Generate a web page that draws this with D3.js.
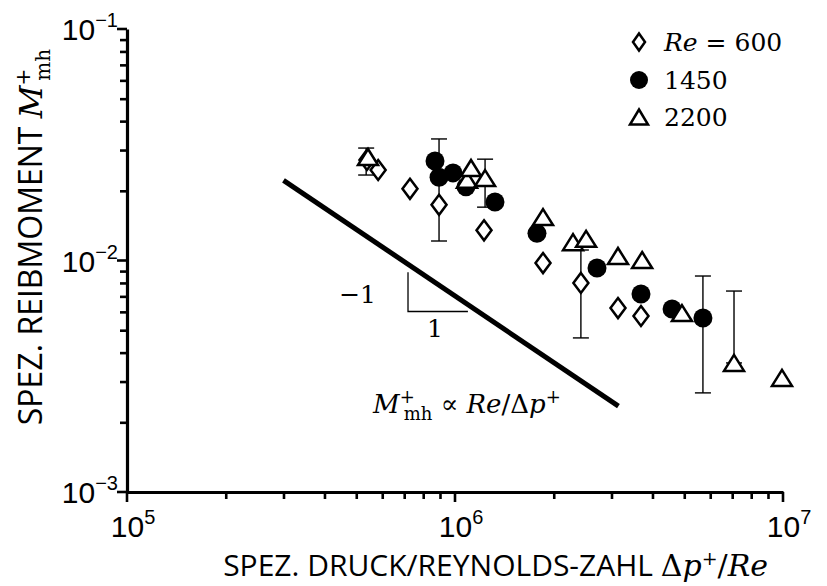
<!DOCTYPE html>
<html>
<head>
<meta charset="utf-8">
<script src="https://cdnjs.cloudflare.com/ajax/libs/d3/7.8.5/d3.min.js"></script>
<style>
  body { margin: 0; background: #fff; }
  .tick-lab { font-family: "Liberation Sans", Arial, sans-serif; font-size: 30px; }
  .title { font-family: "Open Sans", "Noto Sans", sans-serif; }
  .math { font-family: "DejaVu Serif", serif; }
</style>
</head>
<body>
<svg width="827" height="586"></svg>
<script>
// Re = 600 (open diamonds)
const re600 = [
    [5.39e5, 0.0272], [5.83e5, 0.0246], [7.29e5, 0.0204], [8.94e5, 0.0174],
    [1.226e6, 0.0135], [1.855e6, 0.00975], [2.42e6, 0.0080], [3.14e6, 0.00623],
    [3.69e6, 0.00576]
];
// Re = 1450 (filled circles)
const re1450 = [
    [8.69e5, 0.0269], [8.94e5, 0.0229], [9.86e5, 0.0239], [1.08e6, 0.0208],
    [1.324e6, 0.0179], [1.778e6, 0.0131], [2.71e6, 0.00928], [3.69e6, 0.00717],
    [4.59e6, 0.00617], [5.70e6, 0.00564]
];
// Re = 2200 (open triangles)
const re2200 = [
    [5.43e5, 0.0280], [1.088e6, 0.0223], [1.119e6, 0.0251], [1.235e6, 0.0227],
    [1.855e6, 0.0154], [2.29e6, 0.0120], [2.51e6, 0.0124], [3.14e6, 0.01046],
    [3.72e6, 0.01005], [4.92e6, 0.00593], [7.09e6, 0.00361], [9.93e6, 0.00311]
];
// error bars: x, low, high
const errX = [5.36e5, 8.94e5, 1.235e6, 2.42e6, 5.70e6, 7.09e6];
const errLo = [0.0234, 0.01214, 0.0170, 0.00463, 0.00268, 0.00361];
const errHi = [0.0306, 0.0335, 0.0274, 0.0111, 0.00857, 0.00738];

// fitted trend line end points and slope triangle corners
const trendLine = [[3.0e5, 0.0222], [3.15e6, 0.00235]];
const slopeTri = [[7.19e5, 0.0089], [7.19e5, 0.00602], [1.095e6, 0.00602]];

const xMajor = [1e5, 1e6, 1e7];
const xExp = ['5', '6', '7'];
const yMajor = [1e-3, 1e-2, 1e-1];
const yExp = ['−3', '−2', '−1'];

const legendLabels = ['= 600', '1450', '2200'];

const svg = d3.select('svg');

const x = d3.scaleLog().domain([1e5, 1e7]).range([127, 783]);
const y = d3.scaleLog().domain([1e-3, 1e-1]).range([492, 29]);

// minor ticks 2..9 in every decade
function minorTicks(lo, hi) {
    const out = [];
    for (let e = lo; e < hi; e++) {
        for (let m = 2; m <= 9; m++) out.push(m * Math.pow(10, e));
    }
    return out;
}

const xAxis = svg.append('g')
    .attr('transform', `translate(0,${y(1e-3)})`)
    .call(d3.axisBottom(x).tickValues(minorTicks(5, 7)).tickSize(7).tickSizeOuter(0).tickFormat(''));
xAxis.append('g').selectAll('line').data(xMajor).enter().append('line')
    .attr('x1', d => x(d)).attr('x2', d => x(d)).attr('y1', 0).attr('y2', 10)
    .attr('stroke', '#000');

const yAxis = svg.append('g')
    .attr('transform', `translate(${x(1e5)},0)`)
    .call(d3.axisLeft(y).tickValues(minorTicks(-3, -1)).tickSize(7).tickSizeOuter(0).tickFormat(''));
yAxis.append('g').selectAll('line').data(yMajor).enter().append('line')
    .attr('y1', d => y(d)).attr('y2', d => y(d)).attr('x1', 0).attr('x2', -10)
    .attr('stroke', '#000');

svg.selectAll('.domain').attr('stroke', '#000').attr('stroke-width', 3.2);
svg.selectAll('.tick line').attr('stroke', '#000').attr('stroke-width', 2.6);
xAxis.selectAll('g > line').attr('stroke-width', 2.6);
yAxis.selectAll('g > line').attr('stroke-width', 2.6);

// tick labels with superscripts
xMajor.forEach((v, i) => {
    const t = svg.append('text').attr('class', 'tick-lab')
        .attr('x', x(v) + 6).attr('y', 537).attr('text-anchor', 'middle');
    t.append('tspan').text('10');
    t.append('tspan').attr('dy', -13).attr('font-size', 20).text(xExp[i]);
});
yMajor.forEach((v, i) => {
    const t = svg.append('text').attr('class', 'tick-lab')
        .attr('x', 118).attr('y', y(v) + 11).attr('text-anchor', 'end');
    t.append('tspan').text('10');
    t.append('tspan').attr('dy', -13).attr('font-size', 20).text(yExp[i]);
});

// axis titles
const xt = svg.append('text').attr('class', 'title').attr('font-size', 30)
    .attr('x', 768).attr('y', 576).attr('text-anchor', 'end');
xt.append('tspan').text('SPEZ. DRUCK/REYNOLDS-ZAHL ');
xt.append('tspan').attr('class', 'math').text('Δ');
xt.append('tspan').attr('class', 'math').attr('font-style', 'italic').text('p');
xt.append('tspan').attr('class', 'math').attr('dy', -11).attr('font-size', 19).text('+');
xt.append('tspan').attr('class', 'math').attr('dy', 11).text('/');
xt.append('tspan').attr('class', 'math').attr('font-style', 'italic').text('Re');

const yt = svg.append('text').attr('class', 'title').attr('font-size', 32)
    .attr('transform', 'translate(42,237) rotate(-90)').attr('text-anchor', 'middle');
yt.append('tspan').text('SPEZ. REIBMOMENT ');
yt.append('tspan').attr('class', 'math').attr('font-style', 'italic').text('M');
yt.append('tspan').attr('class', 'math').attr('dy', -12).attr('font-size', 20).text('+');
yt.append('tspan').attr('class', 'math').attr('dx', -12).attr('dy', 20).attr('font-size', 20).text('mh');

// trend line
const line = d3.line().x(d => x(d[0])).y(d => y(d[1]));
svg.append('path').datum(trendLine).attr('d', line)
    .attr('fill', 'none').attr('stroke', '#000').attr('stroke-width', 5);
svg.append('path').datum(slopeTri).attr('d', line)
    .attr('fill', 'none').attr('stroke', '#000').attr('stroke-width', 1.3);

svg.append('text').attr('class', 'math').attr('font-size', 25)
    .attr('x', 376).attr('y', 303).attr('text-anchor', 'end').text('−1');
svg.append('text').attr('class', 'math').attr('font-size', 25)
    .attr('x', 435).attr('y', 337).attr('text-anchor', 'middle').text('1');

const f = svg.append('text').attr('class', 'math').attr('font-size', 26)
    .attr('x', 373).attr('y', 413);
f.append('tspan').attr('font-style', 'italic').text('M');
f.append('tspan').attr('dy', -10).attr('font-size', 18).text('+');
f.append('tspan').attr('dx', -11).attr('dy', 17).attr('font-size', 18).text('mh');
f.append('tspan').attr('dy', -7).text(' ∝ ');
f.append('tspan').attr('font-style', 'italic').text('Re');
f.append('tspan').text('/Δ');
f.append('tspan').attr('font-style', 'italic').text('p');
f.append('tspan').attr('dy', -10).attr('font-size', 18).text('+');

// error bars
const eb = svg.append('g').attr('stroke', '#000').attr('stroke-width', 1.4);
errX.forEach((v, i) => {
    const xx = x(v);
    eb.append('line').attr('x1', xx).attr('x2', xx).attr('y1', y(errLo[i])).attr('y2', y(errHi[i]));
    eb.append('line').attr('x1', xx - 8).attr('x2', xx + 8).attr('y1', y(errLo[i])).attr('y2', y(errLo[i]));
    eb.append('line').attr('x1', xx - 8).attr('x2', xx + 8).attr('y1', y(errHi[i])).attr('y2', y(errHi[i]));
});

// marker shapes
function diamondPath(w, h) {
    return `M0,${-h / 2}L${w / 2},0L0,${h / 2}L${-w / 2},0Z`;
}
function trianglePath(w, h) {
    return `M0,${-h / 2}L${w / 2},${h / 2}L${-w / 2},${h / 2}Z`;
}

svg.append('g').selectAll('circle').data(re1450).enter().append('circle')
    .attr('cx', d => x(d[0])).attr('cy', d => y(d[1])).attr('r', 9.5).attr('fill', '#000');

svg.append('g').selectAll('path').data(re600).enter().append('path')
    .attr('d', diamondPath(15, 20))
    .attr('transform', d => `translate(${x(d[0])},${y(d[1])})`)
    .attr('fill', '#fff').attr('stroke', '#000').attr('stroke-width', 2.5);

svg.append('g').selectAll('path').data(re2200).enter().append('path')
    .attr('d', trianglePath(20, 16))
    .attr('transform', d => `translate(${x(d[0])},${y(d[1])})`)
    .attr('fill', '#fff').attr('stroke', '#000').attr('stroke-width', 2.5);

// legend
const legY = [42, 80, 117];
const lg = svg.append('g');
lg.append('path').attr('d', diamondPath(12, 17)).attr('transform', `translate(639,${legY[0]})`)
    .attr('fill', '#fff').attr('stroke', '#000').attr('stroke-width', 2.5);
lg.append('circle').attr('cx', 639).attr('cy', legY[1]).attr('r', 9).attr('fill', '#000');
lg.append('path').attr('d', trianglePath(18, 15)).attr('transform', `translate(639,${legY[2]})`)
    .attr('fill', '#fff').attr('stroke', '#000').attr('stroke-width', 2.5);

legendLabels.forEach((s, i) => {
    const t = lg.append('text').attr('class', 'math').attr('font-size', 25)
        .attr('x', 664).attr('y', legY[i] + 9);
    if (i === 0) t.append('tspan').attr('font-style', 'italic').text('Re ');
    t.append('tspan').text(s);
});
</script>
</body>
</html>
